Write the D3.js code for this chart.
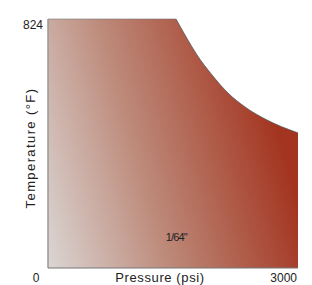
<!DOCTYPE html>
<html>
<head>
<meta charset="utf-8">
<script src="https://cdn.jsdelivr.net/npm/d3@7"></script>
<style>
  body { margin: 0; background: #fff; }
  text { font-family: "Liberation Sans", Arial, sans-serif; fill: #222; }
</style>
</head>
<body>
<div id="chart"></div>
<script>
// Rating envelope: pressure (psi) vs max temperature (°F)
var plateauPressures = [0, 1536];
var curvePressures = [1536, 1644, 1788, 1968, 2160, 2364, 2604, 3000];
var curveTemps = [824, 771, 705, 639, 579, 533, 493, 447];
var maxTemp = 824;
var xTicks = [0, 3000];
var yTicks = [0, 824];
var seriesLabel = "1/64\"";

const margin = { top: 19, right: 14, bottom: 17, left: 48 };
const width = 312 - margin.left - margin.right;
const height = 285 - margin.top - margin.bottom;

const svg = d3.select("#chart")
    .append("svg")
    .attr("width", 312)
    .attr("height", 285);

const g = svg.append("g")
    .attr("transform", `translate(${margin.left}, ${margin.top})`);

const xScale = d3.scaleLinear().domain([0, 3000]).range([0, width]);
const yScale = d3.scaleLinear().domain([0, 824]).range([height, 0]);

// Gradient fill, mostly left to right with a slight tilt
const defs = svg.append("defs");
const grad = defs.append("linearGradient")
    .attr("id", "fillGrad")
    .attr("gradientUnits", "userSpaceOnUse")
    .attr("x1", 0).attr("y1", height)
    .attr("x2", width).attr("y2", height * 0.72);
grad.append("stop").attr("offset", "0").attr("stop-color", "#dbd6d4");
grad.append("stop").attr("offset", "0.45").attr("stop-color", "#bd8a7a");
grad.append("stop").attr("offset", "1").attr("stop-color", "#a3341f");

var curvePoints = curvePressures.map((p, i) => [p, curveTemps[i]]);

const line = d3.line()
    .x(d => xScale(d[0]))
    .y(d => yScale(d[1]))
    .curve(d3.curveMonotoneX);

const curvePath = line(curvePoints);

// Build area: left edge, flat top, smooth curve, down right edge
const areaPath = "M" + xScale(plateauPressures[0]) + "," + yScale(0)
    + "L" + xScale(plateauPressures[0]) + "," + yScale(maxTemp)
    + "L" + curvePath.slice(1)
    + "L" + xScale(curvePressures[curvePressures.length - 1]) + "," + yScale(0)
    + "Z";

g.append("path")
    .attr("d", areaPath)
    .attr("fill", "url(#fillGrad)");

// Top edge and curve edge
g.append("line")
    .attr("x1", xScale(plateauPressures[0])).attr("x2", xScale(plateauPressures[1]))
    .attr("y1", yScale(maxTemp)).attr("y2", yScale(maxTemp))
    .attr("stroke", "#777").attr("stroke-width", 0.6);

g.append("path")
    .attr("d", curvePath)
    .attr("fill", "none")
    .attr("stroke", "#555")
    .attr("stroke-width", 0.8);

// Axes lines
g.append("line")
    .attr("x1", 0).attr("x2", 0)
    .attr("y1", 0).attr("y2", height)
    .attr("stroke", "#999").attr("stroke-width", 1.5);

g.append("line")
    .attr("x1", 0).attr("x2", width)
    .attr("y1", height).attr("y2", height)
    .attr("stroke", "#777").attr("stroke-width", 1);

// Tick labels
g.append("text")
    .attr("x", -5)
    .attr("y", yScale(yTicks[1]) + 10)
    .attr("text-anchor", "end")
    .style("font-size", "12px")
    .text(yTicks[1]);

g.append("text")
    .attr("x", -12)
    .attr("y", height + 14)
    .attr("text-anchor", "middle")
    .style("font-size", "12px")
    .text(xTicks[0]);

g.append("text")
    .attr("x", xScale(xTicks[1]) - 1)
    .attr("y", height + 14)
    .attr("text-anchor", "end")
    .style("font-size", "12px")
    .text(xTicks[1]);

// Axis labels
g.append("text")
    .attr("x", 112)
    .attr("y", height + 14)
    .attr("text-anchor", "middle")
    .style("font-size", "13px")
    .style("letter-spacing", "0.6px")
    .text("Pressure (psi)");

g.append("text")
    .attr("transform", "rotate(-90)")
    .attr("x", -(148 - margin.top))
    .attr("y", -13)
    .attr("text-anchor", "middle")
    .style("font-size", "13px")
    .style("letter-spacing", "1.4px")
    .text("Temperature (°F)");

// Series label
g.append("text")
    .attr("x", xScale(1540))
    .attr("y", yScale(90))
    .attr("text-anchor", "middle")
    .style("font-size", "11px")
    .style("letter-spacing", "-0.8px")
    .text(seriesLabel);
</script>
</body>
</html>
